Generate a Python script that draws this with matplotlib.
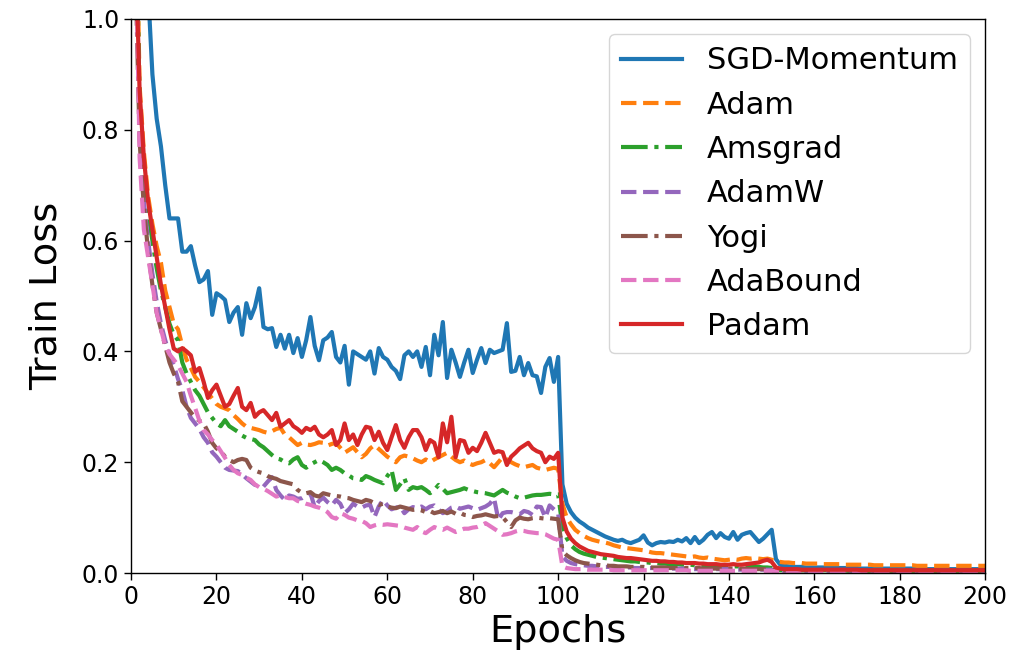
import numpy as np
import matplotlib
matplotlib.use("Agg")
from matplotlib import pyplot as plt

epochs = np.arange(1, 201)

sgd = [2.10, 1.60, 1.25, 1.05, 0.90, 0.82, 0.77, 0.70, 0.64, 0.64,
       0.64, 0.58, 0.58, 0.59, 0.555, 0.525, 0.53, 0.545, 0.466, 0.505,
       0.50, 0.493, 0.453, 0.47, 0.48, 0.43, 0.487, 0.46, 0.48, 0.514,
       0.444, 0.44, 0.442, 0.408, 0.43, 0.405, 0.43, 0.397, 0.424, 0.39,
       0.42, 0.462, 0.41, 0.384, 0.42, 0.425, 0.435, 0.39, 0.38, 0.41,
       0.34, 0.40, 0.395, 0.39, 0.385, 0.40, 0.36, 0.406, 0.39, 0.385,
       0.372, 0.365, 0.35, 0.393, 0.40, 0.39, 0.40, 0.372, 0.408, 0.357,
       0.43, 0.393, 0.453, 0.352, 0.403, 0.38, 0.354, 0.38, 0.403, 0.361,
       0.385, 0.406, 0.379, 0.403, 0.397, 0.40, 0.403, 0.451, 0.363, 0.365,
       0.39, 0.357, 0.379, 0.357, 0.355, 0.325, 0.372, 0.388, 0.345, 0.39,
       0.160, 0.125, 0.110, 0.100, 0.093, 0.088, 0.082, 0.078, 0.074, 0.070,
       0.066, 0.063, 0.060, 0.058, 0.060, 0.056, 0.054, 0.057, 0.060, 0.068,
       0.055, 0.050, 0.054, 0.056, 0.055, 0.057, 0.056, 0.060, 0.057, 0.063,
       0.054, 0.065, 0.054, 0.060, 0.069, 0.074, 0.063, 0.072, 0.065, 0.062,
       0.074, 0.060, 0.069, 0.072, 0.074, 0.065, 0.056, 0.062, 0.070, 0.078,
       0.025, 0.015, 0.013, 0.012, 0.011, 0.011, 0.011, 0.010, 0.010, 0.010,
       0.010, 0.010, 0.009, 0.009, 0.009, 0.009, 0.009, 0.009, 0.009, 0.009,
       0.008, 0.008, 0.008, 0.008, 0.008, 0.008, 0.008, 0.008, 0.008, 0.008,
       0.008, 0.008, 0.008, 0.007, 0.007, 0.007, 0.007, 0.007, 0.007, 0.007,
       0.007, 0.007, 0.007, 0.007, 0.007, 0.007, 0.007, 0.007, 0.007, 0.007]

adam = [1.30, 0.88, 0.76, 0.68, 0.63, 0.59, 0.56, 0.51, 0.48, 0.45,
        0.44, 0.41, 0.385, 0.37, 0.354, 0.345, 0.335, 0.325, 0.315, 0.305,
        0.30, 0.297, 0.294, 0.285, 0.278, 0.27, 0.264, 0.262, 0.26, 0.258,
        0.255, 0.253, 0.256, 0.26, 0.262, 0.25, 0.245, 0.238, 0.231, 0.235,
        0.232, 0.231, 0.233, 0.236, 0.235, 0.23, 0.233, 0.235, 0.226, 0.217,
        0.222, 0.227, 0.218, 0.209, 0.215, 0.225, 0.231, 0.224, 0.217, 0.21,
        0.205, 0.20, 0.209, 0.212, 0.21, 0.207, 0.203, 0.20, 0.205, 0.20,
        0.205, 0.209, 0.213, 0.217, 0.21, 0.204, 0.20, 0.203, 0.198, 0.195,
        0.198, 0.20, 0.204, 0.198, 0.191, 0.20, 0.209, 0.205, 0.20, 0.196,
        0.193, 0.191, 0.193, 0.195, 0.19, 0.188, 0.186, 0.188, 0.19, 0.188,
        0.125, 0.100, 0.088, 0.078, 0.072, 0.067, 0.063, 0.060, 0.058, 0.056,
        0.055, 0.053, 0.050, 0.048, 0.046, 0.045, 0.044, 0.043, 0.042, 0.041,
        0.039, 0.037, 0.036, 0.036, 0.035, 0.034, 0.033, 0.032, 0.031, 0.030,
        0.029, 0.030, 0.028, 0.027, 0.028, 0.026, 0.025, 0.024, 0.023, 0.024,
        0.025, 0.024, 0.026, 0.027, 0.026, 0.027, 0.026, 0.025, 0.026, 0.024,
        0.021, 0.020, 0.019, 0.019, 0.018, 0.018, 0.018, 0.017, 0.017, 0.017,
        0.017, 0.016, 0.016, 0.016, 0.016, 0.016, 0.015, 0.015, 0.015, 0.015,
        0.015, 0.015, 0.015, 0.014, 0.014, 0.014, 0.014, 0.014, 0.014, 0.014,
        0.014, 0.014, 0.014, 0.013, 0.013, 0.013, 0.013, 0.013, 0.013, 0.013,
        0.013, 0.013, 0.013, 0.013, 0.013, 0.013, 0.013, 0.013, 0.013, 0.013]

amsgrad = [1.25, 0.85, 0.72, 0.65, 0.60, 0.55, 0.51, 0.48, 0.45, 0.43,
           0.42, 0.38, 0.36, 0.345, 0.33, 0.32, 0.305, 0.29, 0.28, 0.27,
           0.265, 0.276, 0.265, 0.26, 0.255, 0.248, 0.244, 0.242, 0.24, 0.232,
           0.227, 0.22, 0.213, 0.207, 0.205, 0.20, 0.198, 0.205, 0.209, 0.195,
           0.19, 0.196, 0.20, 0.204, 0.20, 0.195, 0.186, 0.19, 0.186, 0.18,
           0.176, 0.171, 0.17, 0.168, 0.175, 0.172, 0.168, 0.165, 0.162, 0.175,
           0.186, 0.15, 0.16, 0.171, 0.15, 0.155, 0.153, 0.155, 0.15, 0.144,
           0.15, 0.159, 0.152, 0.144, 0.146, 0.148, 0.15, 0.153, 0.15, 0.148,
           0.146, 0.145, 0.144, 0.142, 0.14, 0.145, 0.15, 0.145, 0.142, 0.138,
           0.135, 0.136, 0.138, 0.14, 0.141, 0.141, 0.142, 0.143, 0.142, 0.142,
           0.085, 0.063, 0.050, 0.043, 0.038, 0.035, 0.033, 0.031, 0.029, 0.028,
           0.027, 0.026, 0.025, 0.024, 0.023, 0.022, 0.021, 0.021, 0.020, 0.019,
           0.019, 0.018, 0.018, 0.017, 0.017, 0.016, 0.016, 0.016, 0.015, 0.015,
           0.015, 0.014, 0.014, 0.014, 0.013, 0.013, 0.013, 0.013, 0.012, 0.012,
           0.012, 0.012, 0.012, 0.012, 0.011, 0.011, 0.011, 0.010, 0.010, 0.009,
           0.006, 0.005, 0.005, 0.005, 0.005, 0.005, 0.005, 0.005, 0.005, 0.005,
           0.005, 0.005, 0.005, 0.005, 0.005, 0.005, 0.005, 0.004, 0.004, 0.004,
           0.004, 0.004, 0.004, 0.004, 0.004, 0.004, 0.004, 0.004, 0.004, 0.004,
           0.004, 0.004, 0.004, 0.004, 0.004, 0.004, 0.004, 0.004, 0.004, 0.004,
           0.004, 0.004, 0.004, 0.004, 0.004, 0.004, 0.004, 0.004, 0.004, 0.004]

adamw = [1.20, 0.80, 0.67, 0.60, 0.54, 0.49, 0.45, 0.42, 0.395, 0.375,
         0.35, 0.33, 0.30, 0.28, 0.27, 0.26, 0.245, 0.235, 0.218, 0.21,
         0.20, 0.19, 0.186, 0.185, 0.184, 0.178, 0.171, 0.165, 0.159, 0.158,
         0.156, 0.165, 0.173, 0.15, 0.14, 0.132, 0.14, 0.138, 0.134, 0.135,
         0.14, 0.144, 0.119, 0.13, 0.136, 0.128, 0.122, 0.132, 0.125, 0.108,
         0.115, 0.125, 0.12, 0.118, 0.122, 0.123, 0.101, 0.12, 0.132, 0.122,
         0.115, 0.118, 0.12, 0.108, 0.115, 0.119, 0.117, 0.12, 0.115, 0.12,
         0.122, 0.115, 0.108, 0.112, 0.118, 0.12, 0.116, 0.118, 0.12, 0.117,
         0.114, 0.117, 0.12, 0.125, 0.135, 0.096, 0.108, 0.11, 0.11, 0.108,
         0.106, 0.112, 0.11, 0.105, 0.12, 0.119, 0.10, 0.122, 0.115, 0.108,
         0.030, 0.022, 0.018, 0.016, 0.015, 0.014, 0.013, 0.013, 0.012, 0.012,
         0.011, 0.011, 0.011, 0.010, 0.010, 0.010, 0.010, 0.009, 0.009, 0.009,
         0.009, 0.009, 0.008, 0.008, 0.008, 0.008, 0.008, 0.008, 0.008, 0.008,
         0.007, 0.007, 0.007, 0.007, 0.007, 0.007, 0.007, 0.007, 0.007, 0.007,
         0.006, 0.006, 0.006, 0.006, 0.006, 0.006, 0.006, 0.006, 0.006, 0.006,
         0.004, 0.004, 0.004, 0.004, 0.004, 0.004, 0.004, 0.004, 0.004, 0.004,
         0.004, 0.004, 0.004, 0.004, 0.004, 0.004, 0.004, 0.004, 0.004, 0.004,
         0.004, 0.004, 0.004, 0.004, 0.004, 0.004, 0.004, 0.004, 0.004, 0.004,
         0.004, 0.004, 0.004, 0.004, 0.004, 0.004, 0.004, 0.004, 0.004, 0.004,
         0.004, 0.004, 0.004, 0.004, 0.004, 0.004, 0.004, 0.004, 0.004, 0.004]

yogi = [1.10, 0.78, 0.66, 0.58, 0.52, 0.47, 0.44, 0.41, 0.38, 0.36,
        0.345, 0.31, 0.30, 0.29, 0.28, 0.275, 0.27, 0.255, 0.235, 0.225,
        0.22, 0.21, 0.204, 0.20, 0.204, 0.206, 0.204, 0.19, 0.185, 0.182,
        0.18, 0.175, 0.172, 0.17, 0.166, 0.164, 0.162, 0.16, 0.15, 0.145,
        0.144, 0.146, 0.14, 0.138, 0.144, 0.142, 0.14, 0.139, 0.138, 0.136,
        0.135, 0.132, 0.13, 0.128, 0.132, 0.13, 0.126, 0.123, 0.125, 0.12,
        0.118, 0.117, 0.12, 0.118, 0.116, 0.114, 0.115, 0.113, 0.11, 0.112,
        0.108, 0.11, 0.112, 0.108, 0.111, 0.107, 0.109, 0.105, 0.104, 0.101,
        0.103, 0.104, 0.106, 0.104, 0.102, 0.103, 0.101, 0.092, 0.083, 0.095,
        0.10, 0.098, 0.097, 0.099, 0.10, 0.099, 0.098, 0.099, 0.098, 0.097,
        0.040, 0.032, 0.027, 0.023, 0.020, 0.018, 0.017, 0.016, 0.015, 0.014,
        0.014, 0.013, 0.013, 0.012, 0.012, 0.012, 0.011, 0.011, 0.011, 0.011,
        0.010, 0.010, 0.010, 0.010, 0.010, 0.009, 0.009, 0.009, 0.009, 0.009,
        0.009, 0.009, 0.009, 0.008, 0.008, 0.008, 0.008, 0.008, 0.008, 0.008,
        0.008, 0.008, 0.008, 0.008, 0.007, 0.007, 0.007, 0.007, 0.007, 0.007,
        0.005, 0.005, 0.005, 0.005, 0.005, 0.005, 0.005, 0.005, 0.005, 0.005,
        0.005, 0.005, 0.005, 0.005, 0.005, 0.005, 0.005, 0.005, 0.005, 0.005,
        0.005, 0.005, 0.005, 0.005, 0.005, 0.005, 0.005, 0.005, 0.005, 0.005,
        0.005, 0.005, 0.005, 0.005, 0.005, 0.005, 0.005, 0.005, 0.005, 0.005,
        0.005, 0.005, 0.005, 0.005, 0.005, 0.005, 0.005, 0.005, 0.005, 0.005]

adabound = [1.20, 0.75, 0.62, 0.57, 0.52, 0.47, 0.44, 0.41, 0.395, 0.385,
            0.375, 0.36, 0.345, 0.32, 0.298, 0.275, 0.258, 0.25, 0.24, 0.232,
            0.22, 0.208, 0.195, 0.186, 0.18, 0.177, 0.172, 0.168, 0.16, 0.155,
            0.152, 0.148, 0.143, 0.138, 0.14, 0.137, 0.135, 0.135, 0.13, 0.128,
            0.125, 0.123, 0.12, 0.118, 0.115, 0.11, 0.101, 0.098, 0.108, 0.105,
            0.10, 0.098, 0.095, 0.094, 0.09, 0.083, 0.086, 0.088, 0.087, 0.088,
            0.087, 0.086, 0.085, 0.082, 0.08, 0.078, 0.083, 0.075, 0.072, 0.078,
            0.083, 0.08, 0.078, 0.082, 0.078, 0.074, 0.077, 0.08, 0.08, 0.082,
            0.083, 0.086, 0.09, 0.085, 0.08, 0.075, 0.069, 0.07, 0.072, 0.075,
            0.077, 0.076, 0.074, 0.073, 0.072, 0.072, 0.07, 0.066, 0.062, 0.06,
            0.012, 0.009, 0.008, 0.007, 0.007, 0.007, 0.006, 0.006, 0.006, 0.006,
            0.006, 0.006, 0.005, 0.005, 0.005, 0.005, 0.005, 0.005, 0.005, 0.005,
            0.005, 0.005, 0.005, 0.005, 0.005, 0.005, 0.005, 0.005, 0.005, 0.005,
            0.004, 0.004, 0.004, 0.004, 0.004, 0.004, 0.004, 0.004, 0.004, 0.004,
            0.004, 0.004, 0.004, 0.004, 0.004, 0.004, 0.004, 0.004, 0.004, 0.004,
            0.003, 0.003, 0.003, 0.003, 0.003, 0.003, 0.003, 0.003, 0.003, 0.003,
            0.003, 0.003, 0.003, 0.003, 0.003, 0.003, 0.003, 0.003, 0.003, 0.003,
            0.003, 0.003, 0.003, 0.003, 0.003, 0.003, 0.003, 0.003, 0.003, 0.003,
            0.003, 0.003, 0.003, 0.003, 0.003, 0.003, 0.003, 0.003, 0.003, 0.003,
            0.003, 0.003, 0.003, 0.003, 0.003, 0.003, 0.003, 0.003, 0.003, 0.003]

padam = [1.15, 0.87, 0.75, 0.67, 0.62, 0.57, 0.52, 0.48, 0.44, 0.405,
         0.40, 0.406, 0.40, 0.393, 0.363, 0.37, 0.345, 0.316, 0.33, 0.34,
         0.32, 0.30, 0.305, 0.32, 0.334, 0.30, 0.294, 0.307, 0.282, 0.29,
         0.294, 0.285, 0.276, 0.289, 0.264, 0.27, 0.276, 0.265, 0.26, 0.253,
         0.262, 0.258, 0.264, 0.25, 0.245, 0.25, 0.258, 0.231, 0.24, 0.27,
         0.24, 0.25, 0.231, 0.25, 0.264, 0.262, 0.24, 0.255, 0.235, 0.222,
         0.245, 0.267, 0.24, 0.226, 0.245, 0.258, 0.258, 0.245, 0.222, 0.24,
         0.235, 0.209, 0.27, 0.236, 0.282, 0.209, 0.24, 0.238, 0.217, 0.226,
         0.22, 0.235, 0.253, 0.235, 0.217, 0.22, 0.218, 0.195, 0.21, 0.217,
         0.225, 0.23, 0.235, 0.225, 0.22, 0.217, 0.20, 0.21, 0.206, 0.217,
         0.100, 0.075, 0.062, 0.054, 0.048, 0.044, 0.040, 0.038, 0.036, 0.034,
         0.033, 0.032, 0.031, 0.029, 0.028, 0.027, 0.027, 0.026, 0.025, 0.024,
         0.023, 0.022, 0.022, 0.021, 0.021, 0.020, 0.020, 0.019, 0.019, 0.018,
         0.018, 0.018, 0.017, 0.017, 0.016, 0.016, 0.016, 0.015, 0.015, 0.015,
         0.016, 0.015, 0.015, 0.016, 0.017, 0.018, 0.019, 0.022, 0.024, 0.020,
         0.010, 0.008, 0.007, 0.007, 0.007, 0.007, 0.006, 0.006, 0.006, 0.006,
         0.006, 0.006, 0.006, 0.006, 0.006, 0.006, 0.006, 0.006, 0.006, 0.006,
         0.005, 0.005, 0.005, 0.005, 0.005, 0.005, 0.005, 0.005, 0.005, 0.005,
         0.005, 0.005, 0.005, 0.005, 0.005, 0.005, 0.005, 0.005, 0.005, 0.005,
         0.005, 0.005, 0.005, 0.005, 0.005, 0.005, 0.005, 0.005, 0.005, 0.005]

names = ['SGD-Momentum', 'Adam', 'Amsgrad', 'AdamW', 'Yogi', 'AdaBound', 'Padam']
series = [sgd, adam, amsgrad, adamw, yogi, adabound, padam]
styles = ['-', '--', '-.', '--', '-.', '--', '-']
colors = ['C0', 'C1', 'C2', 'C4', 'C5', 'C6', 'C3']

fig = plt.figure(figsize=(10.36, 6.61), dpi=100)
ax = fig.add_axes([0.1265, 0.1331, 0.8245, 0.8382])
for name, vals, ls, c in zip(names, series, styles, colors):
    ax.plot(epochs, vals, ls, color=c, lw=3, label=name)

ax.set_xlim(0, 200)
ax.set_ylim(0, 1.0)
ax.set_xticks(range(0, 201, 20))
ax.set_yticks([0.0, 0.2, 0.4, 0.6, 0.8, 1.0])
ax.tick_params(labelsize=17, width=1.0, length=5)
for s in ax.spines.values():
    s.set_linewidth(1.0)
ax.set_xlabel('Epochs', fontsize=27.5, labelpad=4)
ax.set_ylabel('Train Loss', fontsize=27.5, labelpad=12)
ax.legend(loc='upper right', fontsize=22)
fig.savefig('out.png', dpi=100)
